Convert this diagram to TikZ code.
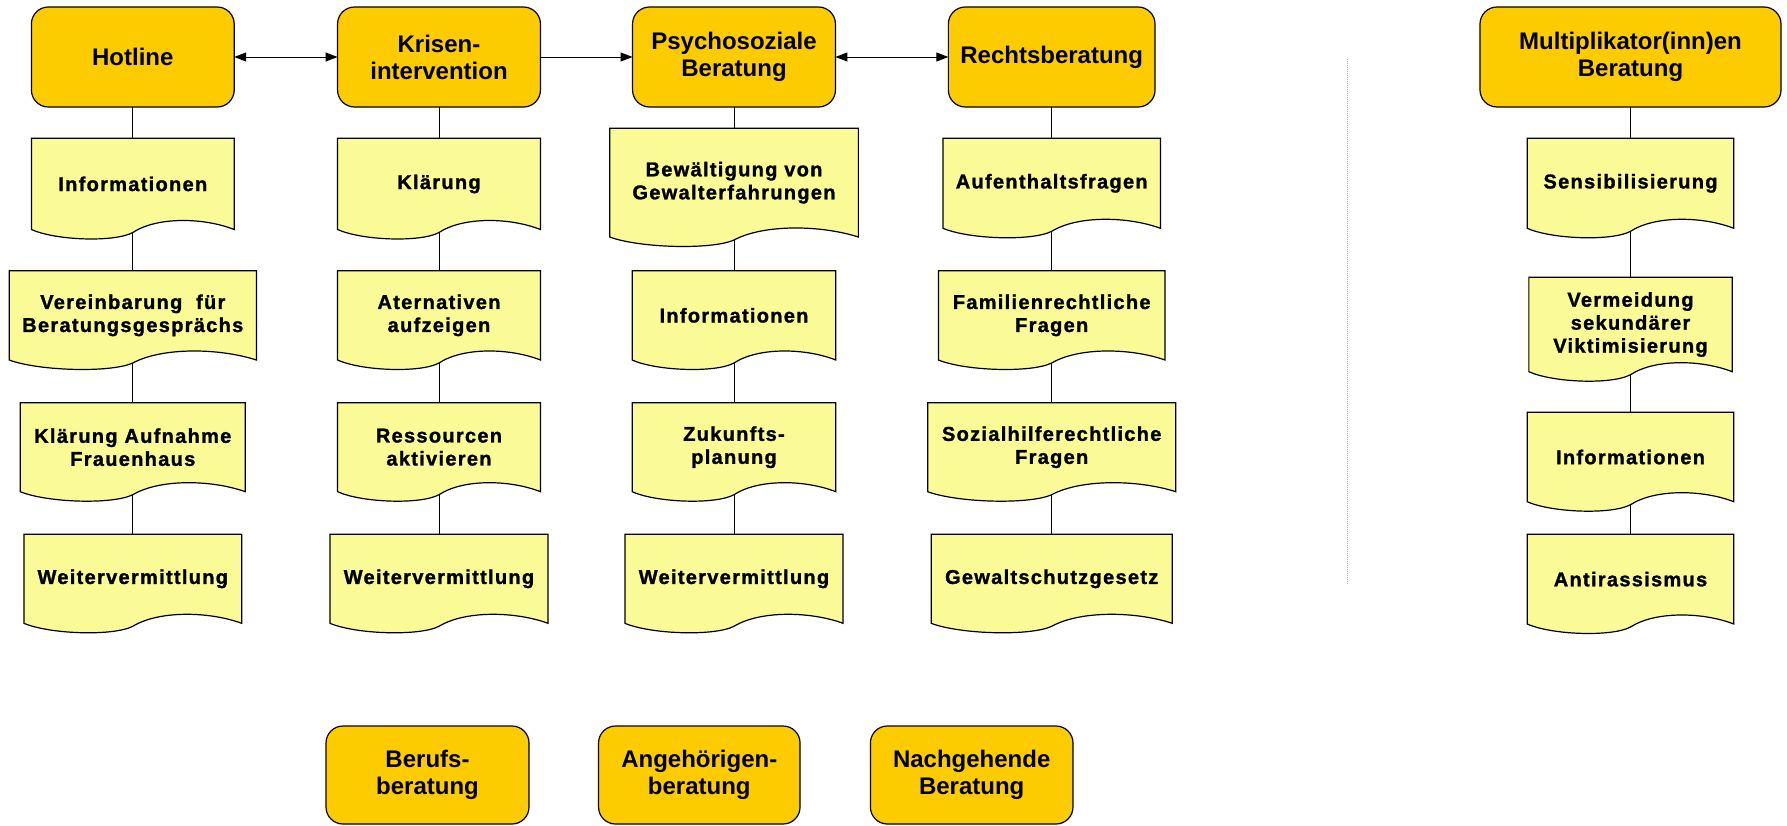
\documentclass[tikz,border=0pt]{standalone}
\usepackage{fontspec}
\setmainfont{Liberation Sans}
\newfontfamily\docfamily{Liberation Sans Bold}[LetterSpace=6.5, FakeBold=1.3]
\usetikzlibrary{arrows.meta,backgrounds,calc}

\definecolor{headfill}{RGB}{253,204,0}
\definecolor{docfill}{RGB}{250,250,150}
\definecolor{divgray}{RGB}{170,170,170}

% document-shaped box (wavy bottom edge) drawn behind the node #1
\newcommand\docwave[1]{%
  \path[docshape] let \p1=(#1.south west), \p2=(#1.north east), \n1={\x2-\x1} in
    (\x1,\y2) -- (\x2,\y2) -- (\x2,\y1)
    .. controls (\x2-0.15*\n1,\y1+12pt) and (\x1+0.62*\n1,\y1+13pt) .. (\x1+0.5*\n1,\y1-3pt)
    .. controls (\x1+0.41*\n1,\y1-13pt) and (\x1+0.12*\n1,\y1-11pt) .. (\x1,\y1) -- cycle;}

\tikzset{
  head/.style={draw=black, line width=1.2pt, fill=headfill, rounded corners=17pt,
    minimum height=100pt, inner sep=0pt, outer sep=0pt, align=center,
    font=\fontsize{24pt}{27pt}\selectfont\bfseries},
  foot/.style={head, minimum height=98pt},
  item/.style={inner sep=0pt, outer sep=0pt, align=center,
    font=\docfamily\fontsize{20pt}{23pt}\selectfont},
  docshape/.style={draw=black, line width=1.2pt, fill=docfill},
  link/.style={draw=black, line width=1pt},
  twoway/.style={{Triangle[length=12pt,width=9pt]}-{Triangle[length=12pt,width=9pt]}},
  oneway/.style={-{Triangle[length=12pt,width=9pt]}},
  divider/.style={draw=divgray, line width=0.8pt, dash pattern=on 1pt off 1pt},
}

\begin{document}
\begin{tikzpicture}[x=1pt, y=-1pt]
\useasboundingbox (0,0) rectangle (1787,825);

% service headings
\node[head, minimum width=202.8pt] (hot) at (132.8,57) {Hotline};
\node[head, minimum width=202.9pt] (kri) at (439,57) {Krisen-\\intervention};
\node[head, minimum width=202.9pt] (psy) at (734,57) {Psychosoziale\\Beratung};
\node[head, minimum width=206.7pt] (rec) at (1051.7,57) {Rechtsberatung};
\node[head, minimum width=301pt] (mul) at (1630.5,57) {Multiplikator(inn)en\\Beratung};

% Hotline column
\node[item, minimum width=202.8pt, minimum height=91.2pt] (h1) at (132.8,183.9) {Informationen};
\node[item, minimum width=247.2pt, minimum height=89.3pt] (h2) at (132.8,315.35) {Vereinbarung\ \ für\\Beratungsgesprächs};
\node[item, minimum width=225pt, minimum height=89pt] (h3) at (132.8,447.2) {Klärung Aufnahme\\Frauenhaus};
\node[item, minimum width=217.8pt, minimum height=89pt] (h4) at (132.8,578.8) {Weitervermittlung};

% Krisenintervention column
\node[item, minimum width=202.9pt, minimum height=91.2pt] (k1) at (439,183.9) {Klärung};
\node[item, minimum width=202.9pt, minimum height=89.3pt] (k2) at (439,315.35) {Aternativen\\aufzeigen};
\node[item, minimum width=202.9pt, minimum height=89pt] (k3) at (439,447.2) {Ressourcen\\aktivieren};
\node[item, minimum width=218.1pt, minimum height=89pt] (k4) at (439,578.8) {Weitervermittlung};

% Psychosoziale Beratung column
\node[item, minimum width=248.7pt, minimum height=108.7pt] (p1) at (734,182.65) {Bewältigung von\\Gewalterfahrungen};
\node[item, minimum width=203.6pt, minimum height=89.3pt] (p2) at (734,315.35) {Informationen};
\node[item, minimum width=203.6pt, minimum height=89pt] (p3) at (734,447.2) {Zukunfts-\\planung};
\node[item, minimum width=218.1pt, minimum height=89pt] (p4) at (734,578.8) {Weitervermittlung};

% Rechtsberatung column
\node[item, minimum width=217.4pt, minimum height=90pt] (r1) at (1051.7,183.3) {Aufenthaltsfragen};
\node[item, minimum width=226.5pt, minimum height=89.3pt] (r2) at (1051.7,315.35) {Familienrechtliche\\Fragen};
\node[item, minimum width=248pt, minimum height=89pt] (r3) at (1051.7,447.2) {Sozialhilferechtliche\\Fragen};
\node[item, minimum width=241.1pt, minimum height=89pt] (r4) at (1051.7,578.8) {Gewaltschutzgesetz};

% Multiplikator(inn)en column
\node[item, minimum width=206.6pt, minimum height=90pt] (m1) at (1630.5,183.3) {Sensibilisierung};
\node[item, minimum width=203.3pt, minimum height=94.4pt] (m2) at (1630.5,324.5) {Vermeidung\\sekundärer\\Viktimisierung};
\node[item, minimum width=206.6pt, minimum height=89.4pt] (m3) at (1630.5,457) {Informationen};
\node[item, minimum width=206.6pt, minimum height=89.7pt] (m4) at (1630.5,579.15) {Antirassismus};

% further services
\node[foot, minimum width=203pt] (ber) at (427.5,775) {Berufs-\\beratung};
\node[foot, minimum width=201.5pt] (ang) at (699.3,775) {Angehörigen-\\beratung};
\node[foot, minimum width=202.6pt] (nac) at (971.7,775) {Nachgehende\\Beratung};

% links between the headings
\draw[link, twoway] (hot) -- (kri);
\draw[link, oneway] (kri) -- (psy);
\draw[link, twoway] (psy) -- (rec);

% divider
\coordinate (divtop) at (1347,59);
\coordinate (divbot) at (1347,585);
\draw[divider] (divtop) -- (divbot);

\begin{scope}[on background layer]
  \draw[link] (hot) -- (h1) -- (h2) -- (h3) -- (h4);
  \draw[link] (kri) -- (k1) -- (k2) -- (k3) -- (k4);
  \draw[link] (psy) -- (p1) -- (p2) -- (p3) -- (p4);
  \draw[link] (rec) -- (r1) -- (r2) -- (r3) -- (r4);
  \draw[link] (mul) -- (m1) -- (m2) -- (m3) -- (m4);
  \foreach \docname in {h1,h2,h3,h4,k1,k2,k3,k4,p1,p2,p3,p4,r1,r2,r3,r4,m1,m2,m3,m4}
    {\docwave{\docname}}
\end{scope}
\end{tikzpicture}
\end{document}
